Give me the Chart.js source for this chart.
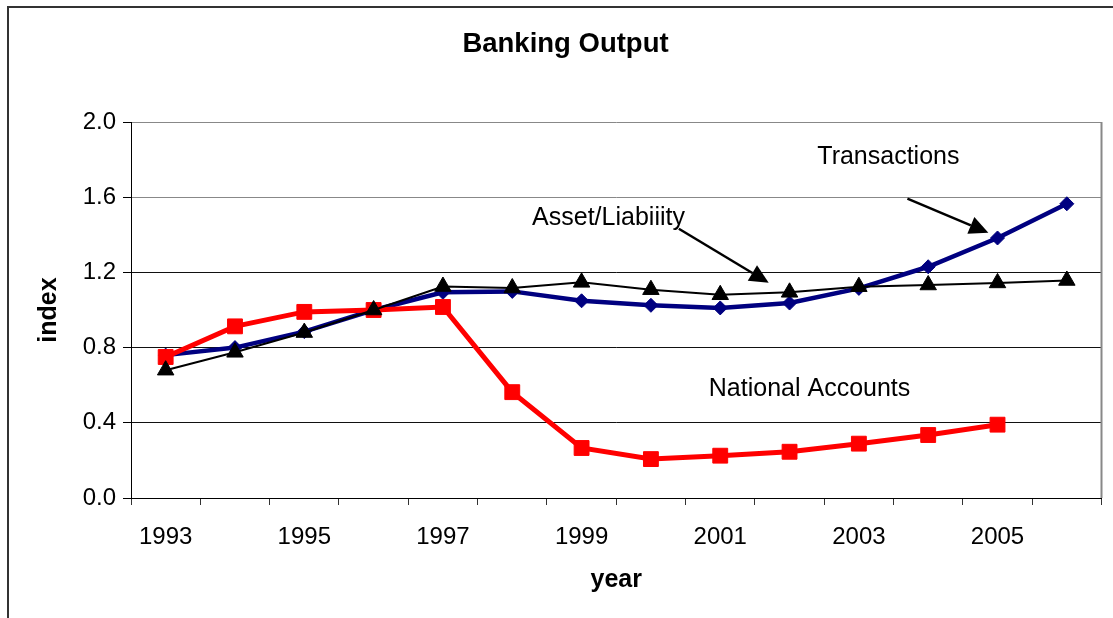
<!DOCTYPE html>
<html><head><meta charset="utf-8">
<script src="https://cdn.jsdelivr.net/npm/chart.js@4"></script>
<style>html,body{margin:0;padding:0;background:#fff;}#wrap{width:1113px;height:618px;}</style>
</head><body><div id="wrap"><canvas id="c" width="1113" height="618"></canvas></div>
<script>
const years = ['1993','1994','1995','1996','1997','1998','1999','2000','2001','2002','2003','2004','2005','2006'];
const transactions = [0.76,0.80,0.885,1.00,1.094,1.099,1.049,1.025,1.011,1.037,1.115,1.23,1.383,1.565];
const assetLiability = [0.68,0.775,0.88,1.00,1.125,1.117,1.147,1.108,1.081,1.094,1.124,1.133,1.144,1.157];
const nationalAccounts = [0.75,0.913,0.99,1.00,1.016,0.563,0.266,0.207,0.225,0.246,0.289,0.335,0.39,null];
const yTicks = [0,0.4,0.8,1.2,1.6,2.0];

// annotation labels & arrows, positioned in data space (category index, value)
const labels = [
  {text:'Transactions', x:9.40, y:1.815},
  {text:'Asset/Liabiiity', x:5.286, y:1.491},
  {text:'National Accounts', x:7.835, y:0.581}
];
const arrows = [
  {from:[10.70,1.592], to:[11.868,1.411]},
  {from:[7.403,1.432], to:[8.699,1.145]}
];

Chart.defaults.font.family = '"Liberation Sans", Arial, Helvetica, sans-serif';
Chart.defaults.color = '#000';

const decor = {
  id:'decor',
  beforeDraw(chart){
    const ctx = chart.ctx;
    ctx.save();
    ctx.fillStyle = '#fff';
    ctx.fillRect(0,0,chart.width,chart.height);
    ctx.strokeStyle = '#333';
    ctx.lineWidth = 2;
    ctx.beginPath();
    ctx.moveTo(8, chart.height);
    ctx.lineTo(8, 7);
    ctx.lineTo(chart.width, 7);
    ctx.stroke();
    ctx.restore();
  },
  afterDraw(chart){
    const ctx = chart.ctx, a = chart.chartArea;
    const xs = chart.scales.x, ys = chart.scales.y;
    ctx.save();
    ctx.strokeStyle = '#888';
    ctx.lineWidth = 2;
    ctx.beginPath();
    ctx.moveTo(a.right, a.top);
    ctx.lineTo(a.right, a.bottom);
    ctx.stroke();
    ctx.fillStyle = '#000';
    ctx.font = '25px "Liberation Sans", Arial, sans-serif';
    ctx.textAlign = 'left';
    ctx.textBaseline = 'middle';
    labels.forEach(l => ctx.fillText(l.text, xs.getPixelForValue(l.x), ys.getPixelForValue(l.y)));
    ctx.strokeStyle = '#000';
    ctx.lineWidth = 2.5;
    arrows.forEach(ar => {
      const x1 = xs.getPixelForValue(ar.from[0]), y1 = ys.getPixelForValue(ar.from[1]);
      const x2 = xs.getPixelForValue(ar.to[0]), y2 = ys.getPixelForValue(ar.to[1]);
      const ang = Math.atan2(y2-y1, x2-x1);
      const L = 19, W = 9;
      const bx = x2 - L*Math.cos(ang), by = y2 - L*Math.sin(ang);
      ctx.beginPath();
      ctx.moveTo(x1,y1); ctx.lineTo(bx,by); ctx.stroke();
      ctx.beginPath();
      ctx.moveTo(x2,y2);
      ctx.lineTo(bx + W*Math.sin(ang), by - W*Math.cos(ang));
      ctx.lineTo(bx - W*Math.sin(ang), by + W*Math.cos(ang));
      ctx.closePath();
      ctx.fill();
    });
    ctx.restore();
  }
};

new Chart(document.getElementById('c'), {
  type:'line',
  data:{
    labels: years,
    datasets:[
      {label:'Asset/Liability', data:assetLiability, borderColor:'#000', backgroundColor:'#000',
       borderWidth:2, pointStyle:'triangle', pointRadius:9.5, pointBorderWidth:1, tension:0, order:0},
      {label:'National Accounts', data:nationalAccounts, borderColor:'#ff0000', backgroundColor:'#ff0000',
       borderWidth:5, pointStyle:'rect', pointRadius:10.5, pointBorderWidth:1, tension:0, order:1},
      {label:'Transactions', data:transactions, borderColor:'#000080', backgroundColor:'#000080',
       borderWidth:4.5, pointStyle:'rectRot', pointRadius:7, pointBorderWidth:1, tension:0, order:2}
    ]
  },
  options:{
    responsive:false,
    animation:false,
    layout:{padding:{left:28,right:10,top:0,bottom:0}},
    plugins:{
      legend:{display:false},
      tooltip:{enabled:false},
      title:{display:true, text:'Banking Output', color:'#000',
        font:{size:27.5, weight:'bold'}, padding:{top:27.5, bottom:61.5}}
    },
    scales:{
      x:{
        type:'category',
        offset:true,
        grid:{offset:true, drawOnChartArea:false, drawTicks:true, tickLength:7, color:'#333', tickColor:'#333'},
        border:{display:true, color:'#000', width:1},
        ticks:{autoSkip:false, maxRotation:0, font:{size:24}, color:'#000', padding:18,
          callback:(v,i)=> i%2===0 ? years[i] : ''},
        title:{display:true, text:'year', font:{size:25, weight:'bold'}, color:'#000', padding:{top:0,bottom:23}},
        afterFit:(s)=>{ s.height = 120; }
      },
      y:{
        min:0, max:2,
        afterBuildTicks:(s)=>{ s.ticks = yTicks.map(v=>({value:v})); },
        grid:{drawTicks:true, tickLength:8, lineWidth:1,
          color:(c)=> (c.tick && c.tick.value >= 1.6) ? '#888' : '#111', tickColor:'#000'},
        border:{display:true, color:'#000', width:1},
        ticks:{font:{size:24}, color:'#000', padding:7, callback:(v)=>Number(v).toFixed(1)},
        title:{display:true, text:'index', font:{size:25, weight:'bold'}, color:'#000', padding:{top:6,bottom:0}},
        afterFit:(s)=>{ s.width = 103; }
      }
    }
  },
  plugins:[decor]
});
</script>
</body></html>
